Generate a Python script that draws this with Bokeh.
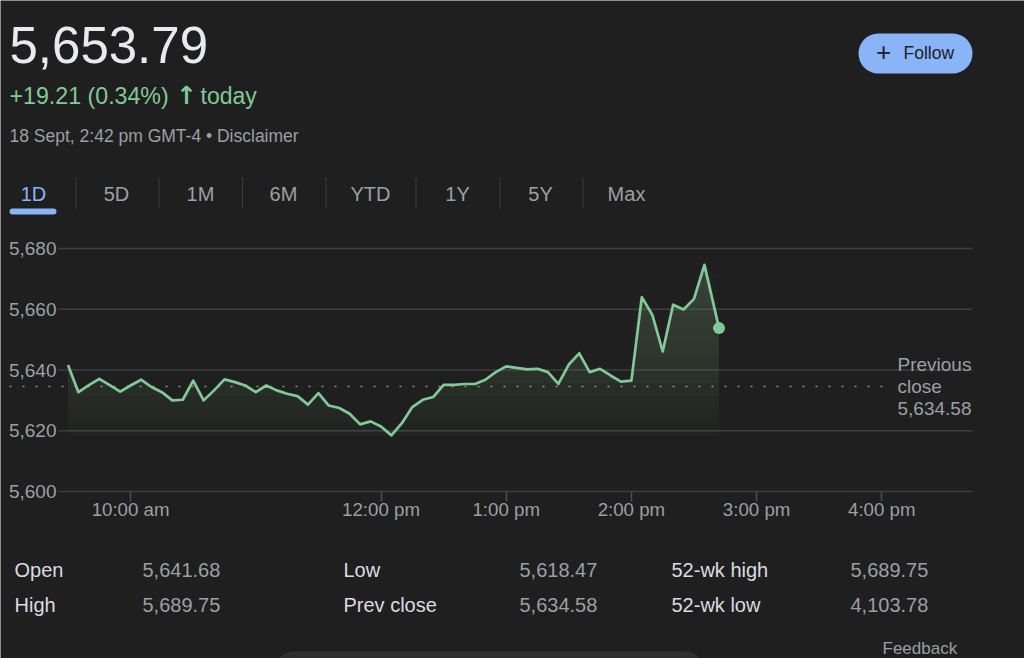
import numpy as np
from bokeh.plotting import figure
from bokeh.models import (Range1d, FixedTicker, NumeralTickFormatter, Label,
                          BoxAnnotation, Arrow)
from bokeh.embed import file_html
from bokeh.resources import INLINE

# ---------------- data ----------------
times = ["9:30", "9:35", "9:40", "9:45", "9:50", "9:55", "10:00", "10:05", "10:10", "10:15",
         "10:20", "10:25", "10:30", "10:35", "10:40", "10:45", "10:50", "10:55", "11:00", "11:05",
         "11:10", "11:15", "11:20", "11:25", "11:30", "11:35", "11:40", "11:45", "11:50", "11:55",
         "12:00", "12:05", "12:10", "12:15", "12:20", "12:25", "12:30", "12:35", "12:40", "12:45",
         "12:50", "12:55", "13:00", "13:05", "13:10", "13:15", "13:20", "13:25", "13:30", "13:35",
         "13:40", "13:45", "13:50", "13:55", "14:00", "14:05", "14:10", "14:15", "14:20", "14:25",
         "14:30", "14:35", "14:42"]
prices = [5641.68, 5632.7, 5635.0, 5637.1, 5635.0, 5632.9, 5634.9, 5636.8, 5634.4, 5632.7,
          5630.0, 5630.2, 5636.5, 5630.0, 5633.3, 5636.9, 5636.0, 5634.9, 5632.7, 5634.9,
          5633.3, 5632.2, 5631.4, 5628.6, 5632.4, 5628.3, 5627.5, 5625.6, 5622.1, 5623.1,
          5621.4, 5618.47, 5622.5, 5627.8, 5630.2, 5631.1, 5635.1, 5635.1, 5635.4, 5635.4,
          5636.8, 5639.3, 5641.2, 5640.7, 5640.2, 5640.4, 5639.3, 5635.4, 5641.8, 5645.5,
          5639.3, 5640.4, 5638.2, 5636.2, 5636.5, 5664.0, 5658.2, 5646.1, 5661.5, 5659.9,
          5663.4, 5674.6, 5653.79]

last_price = "5,653.79"
change_text = "+19.21 (0.34%)"
timestamp_text = "18 Sept, 2:42 pm GMT-4 \u2022 Disclaimer"
prev_close = 5634.58
prev_close_text = "5,634.58"

x_tick_times = ["10:00", "12:00", "13:00", "14:00", "15:00", "16:00"]
x_tick_labels = ["10:00 am", "12:00 pm", "1:00 pm", "2:00 pm", "3:00 pm", "4:00 pm"]
y_ticks = [5600, 5620, 5640, 5660, 5680]

tabs = ["1D", "5D", "1M", "6M", "YTD", "1Y", "5Y", "Max"]

stat_labels = [["Open", "High"], ["Low", "Prev close"], ["52-wk high", "52-wk low"]]
stat_values = [["5,641.68", "5,689.75"], ["5,618.47", "5,634.58"], ["5,689.75", "4,103.78"]]

# ---------------- style ----------------
BG = "#1f1f1f"
GREEN = "#81c995"
GREY = "#9aa0a6"
WHITE = "#e8eaed"
GRID = "#3c4043"
BLUE = "#8ab4f8"
FONT = "Liberation Sans"

W, H = 1024, 658
# the plot frame covers the whole page; ranges chosen so the chart sits in its box
X0, X1 = 8.96086, 17.13977          # hours across the page width
Y0, Y1 = 5545.02, 5761.65           # price across the page height


def hours(t):
    h, m = t.split(":")
    return int(h) + int(m) / 60.0


def px_to_t(px):
    return X0 + px * (X1 - X0) / W


x = np.array([hours(t) for t in times])
y = np.array(prices)

p = figure(width=W, height=H, x_range=Range1d(X0, X1), y_range=Range1d(Y0, Y1),
           output_backend="svg", toolbar_location=None, min_border=0,
           background_fill_color=BG, border_fill_color=BG, outline_line_color=None)
p.xgrid.visible = False
p.ygrid.visible = False

chart_left = px_to_t(58)
chart_right = px_to_t(972)

# grid lines
p.segment(x0=chart_left, x1=chart_right, y0=y_ticks, y1=y_ticks,
          line_color=GRID, line_width=1.5)

# axes placed inside the frame
xa = p.xaxis[0]
xa.fixed_location = y_ticks[0]
xa.ticker = FixedTicker(ticks=[hours(t) for t in x_tick_times])
xa.major_label_overrides = {hours(t): lab for t, lab in zip(x_tick_times, x_tick_labels)}
xa.axis_line_color = None
xa.major_tick_in = 0
xa.major_tick_out = 10
xa.major_tick_line_color = "#4a4d50"
xa.major_tick_line_width = 1.5
xa.minor_tick_line_color = None
xa.major_label_standoff = -3
xa.major_label_text_font = FONT
xa.major_label_text_font_size = "18.7px"
xa.major_label_text_color = GREY

ya = p.yaxis[0]
ya.fixed_location = chart_left
ya.ticker = FixedTicker(ticks=y_ticks)
ya.formatter = NumeralTickFormatter(format="0,0")
ya.axis_line_color = None
ya.major_tick_in = 0
ya.major_tick_out = 0
ya.minor_tick_line_color = None
ya.major_label_standoff = 2
ya.major_label_text_font = FONT
ya.major_label_text_font_size = "19px"
ya.major_label_text_color = GREY

# gradient-like area under the line
low = min(prices)
top = max(prices)
levels = np.linspace(low, top, 14)
p.varea(x=x, y1=low, y2=y, fill_color=GREEN, fill_alpha=0.035)
for lv in levels[1:]:
    p.varea(x=x, y1=lv, y2=np.maximum(y, lv), fill_color=GREEN, fill_alpha=0.02)

# previous close dotted line
p.add_layout(Arrow(end=None, x_start=px_to_t(9), y_start=prev_close,
                   x_end=px_to_t(890), y_end=prev_close,
                   line_color="#8a8d91", line_width=1.6, line_dash="2 11", level="underlay"))

p.line(x, y, line_color=GREEN, line_width=2.7, line_join="round")
p.scatter([x[-1]], [y[-1]], size=12, fill_color=GREEN, line_color=None)


# ---------------- page texts & shapes (page pixels, origin top-left) ----------------
def label(text, px, base, size, color, align="left", font=FONT, style="normal"):
    # base = wanted baseline in page pixels; Bokeh anchors ~0.365em above it
    p.add_layout(Label(x=px, y=H - (base - 0.365 * size), x_units="screen", y_units="screen",
                       text=text, text_font=font, text_font_size=f"{size}px", text_color=color,
                       text_align=align, text_baseline="alphabetic", text_font_style=style,
                       level="annotation"))


def box(l, r, t, b, color, radius=0):
    p.add_layout(BoxAnnotation(left=l, right=r, top=H - t, bottom=H - b,
                               left_units="screen", right_units="screen",
                               top_units="screen", bottom_units="screen",
                               fill_color=color, fill_alpha=1.0, line_color=None,
                               border_radius=radius, level="underlay"))


label(last_price, 9, 63, 51, WHITE)
label(change_text, 9, 104, 23.2, GREEN)
label("\u2191", 186, 104, 25, GREEN, align="center", font="DejaVu Sans", style="bold")
label("today", 200, 104, 23, GREEN)
label(timestamp_text, 9, 142, 17.5, GREY)

# follow button
box(858, 972, 33, 73, BLUE, radius=20)
label("+", 883, 61, 26, "#202124", align="center")
label("Follow", 903, 59, 17.5, "#202124")

# tabs
tab_centers = [33, 116, 200, 283, 370, 457, 540, 626]
for name, cx in zip(tabs, tab_centers):
    label(name, cx, 201, 20, BLUE if name == "1D" else GREY, align="center")
for sxp in [75, 158, 241.5, 325, 415, 499, 582]:
    box(sxp, sxp + 1, 177, 208, "#3c3c3c")
box(9, 56, 208, 214, BLUE, radius=3)

# previous close annotation
label("Previous", 897, 370.5, 19, GREY)
label("close", 897, 392.7, 19, GREY)
label(prev_close_text, 897, 415, 19, GREY)

# stats table
col_label_x = [14, 343, 671]
col_value_x = [142, 519, 850]
row_y = [577, 612]
for c in range(3):
    for r in range(2):
        label(stat_labels[c][r], col_label_x[c], row_y[r], 20, "#dadce0")
        label(stat_values[c][r], col_value_x[c], row_y[r], 20, GREY)

# bottom bits
box(276, 702, 651, 700, "#2d2e30", radius=16)
label("Feedback", 882, 654, 17, GREY)

open("out.html", "w").write(file_html(p, INLINE))
